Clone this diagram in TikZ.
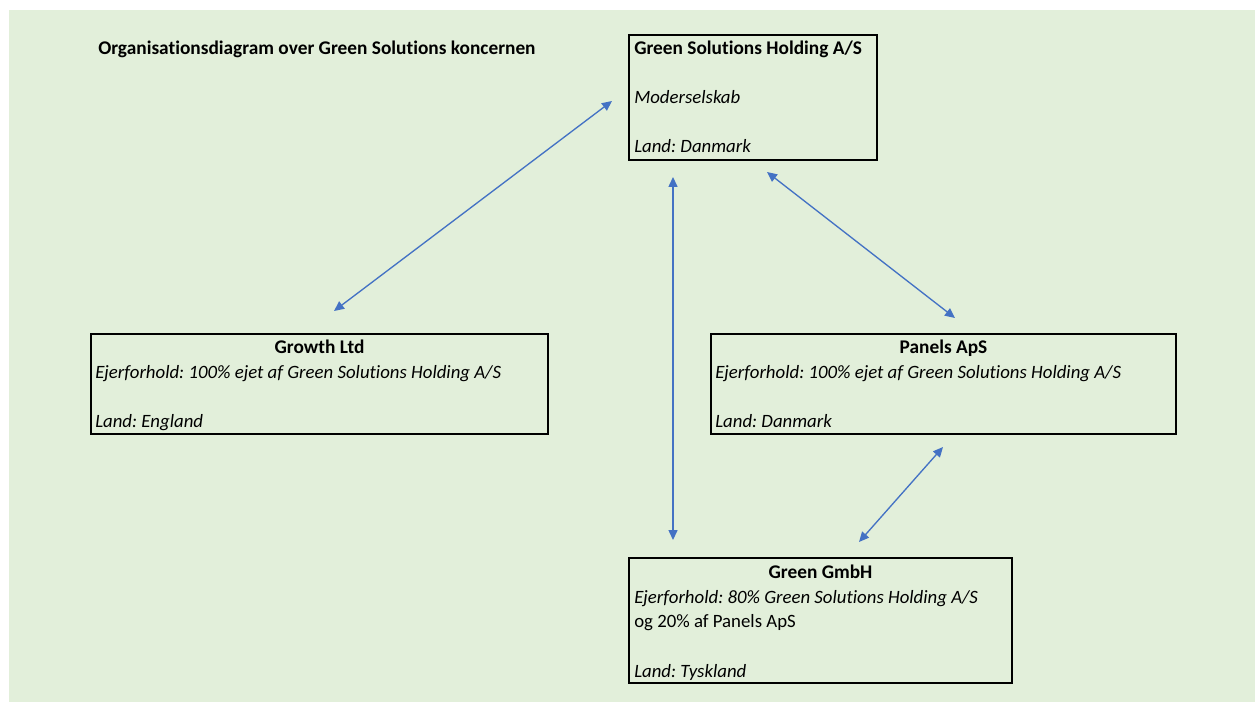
\documentclass[tikz,border=0pt]{standalone}
\usepackage{fontspec}
\setmainfont{Carlito}[Ligatures={NoCommon}]
\frenchspacing
\usetikzlibrary{arrows.meta}
\definecolor{sheetgreen}{HTML}{E2EFDA}
\definecolor{linkblue}{HTML}{4472C4}
\newcommand{\bodyfont}{\fontsize{14.1}{17}\selectfont}
\newcommand{\headfont}{\fontsize{14.5}{17}\selectfont\bfseries}
\begin{document}
\begin{tikzpicture}[x=0.75pt,y=-0.75pt,
  company/.style={draw=black,line width=1.5pt,inner sep=0pt,outer sep=0pt},
  txt/.style={anchor=base west,inner sep=0pt,font=\bodyfont},
  boldtxt/.style={anchor=base west,inner sep=0pt,font=\headfont},
  head/.style={anchor=base,inner sep=0pt,font=\headfont},
  link/.style={draw=linkblue,line width=1pt,
    {Triangle[length=7.5pt,width=6.8pt]}-{Triangle[length=7.5pt,width=6.8pt]}}
]
\useasboundingbox (0,0) rectangle (1255,702);
\fill[white] (0,0) rectangle (1255,702);
\fill[sheetgreen] (9,10) rectangle (1255,702);

% heading
\node[boldtxt] (title) at (98,55)
  {Organisationsdiagram over Green Solutions koncernen};

% parent company
\node[company,minimum width=186pt,minimum height=93.75pt] (hold) at (753,97.5) {};
\node[boldtxt] (holdname) at (634,55) {Green Solutions Holding A/S};
\node[txt] (holdrole) at (634,104) {\itshape Moderselskab};
\node[txt] (holdland) at (634,153) {\itshape Land: Danmark};

% Growth Ltd
\node[company,minimum width=342.75pt,minimum height=75pt] (growth) at (319.5,384) {};
\node[head] (growthname) at (319.5,353) {Growth Ltd};
\node[txt] (growthown) at (95,378) {\itshape Ejerforhold: 100\% ejet af Green Solutions Holding A/S};
\node[txt] (growthland) at (95,427) {\itshape Land: England};

% Panels ApS
\node[company,minimum width=348.75pt,minimum height=75pt] (panels) at (943.5,384) {};
\node[head] (panelsname) at (943.5,353) {Panels ApS};
\node[txt] (panelsown) at (715,378) {\itshape Ejerforhold: 100\% ejet af Green Solutions Holding A/S};
\node[txt] (panelsland) at (715,427) {\itshape Land: Danmark};

% Green GmbH
\node[company,minimum width=287.25pt,minimum height=93.75pt] (gmbh) at (820.5,620.5) {};
\node[head] (gmbhname) at (820.5,578) {Green GmbH};
\node[txt] (gmbhown) at (634,603) {\itshape Ejerforhold: 80\% Green Solutions Holding A/S};
\node[txt] (gmbhown2) at (634,627) {og 20\% af Panels ApS};
\node[txt] (gmbhland) at (634,677) {\itshape Land: Tyskland};

% connector end points
\coordinate (hA) at (612,101);
\coordinate (gA) at (334,311);
\coordinate (hB) at (673,177);
\coordinate (mB) at (673,540);
\coordinate (hC) at (767,172);
\coordinate (pC) at (955,318);
\coordinate (pD) at (943,447);
\coordinate (mD) at (859,542);

\draw[link] (hA) -- (gA);
\draw[link] (hB) -- (mB);
\draw[link] (hC) -- (pC);
\draw[link] (pD) -- (mD);
\end{tikzpicture}
\end{document}
